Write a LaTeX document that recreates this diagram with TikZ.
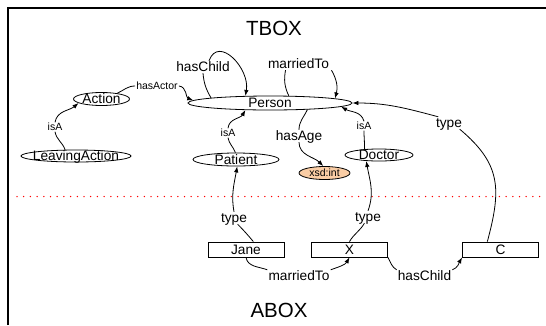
\documentclass[tikz,border=0pt]{standalone}
\usepackage{fontspec}
\setmainfont{Liberation Sans}
\usetikzlibrary{shapes.geometric,arrows.meta}
\definecolor{peach}{RGB}{250,205,165}
\newcommand{\ctxt}[2]{\makebox[0pt]{\smash{\raisebox{-#1}{#2}}}}
\newcommand{\ltxt}[2]{\smash{\raisebox{-#1}{#2}}}
\begin{document}
\begin{tikzpicture}[x=1pt,y=1pt,
  ell/.style={ellipse,draw,line width=0.8pt,inner sep=0pt,font=\fontsize{13.7}{15}\selectfont},
  box/.style={rectangle,draw,line width=0.8pt,inner sep=0pt,minimum width=76pt,minimum height=15pt,font=\fontsize{13.7}{15}\selectfont},
  lbl/.style={inner xsep=1pt,inner ysep=6pt,font=\fontsize{13.7}{15}\selectfont},
  slbl/.style={inner xsep=1pt,inner ysep=4.5pt,font=\fontsize{10.5}{12}\selectfont},
  ttl/.style={inner sep=0pt,font=\fontsize{20.5}{23}\selectfont},
  edge/.style={line width=0.8pt},
  arr/.style={edge,-{Latex[length=6pt,width=4.5pt]}}]
\useasboundingbox (0,0) rectangle (546,-325);
% frame
\draw[line width=2pt] (7.7,-325) -- (7.7,-7.7) -- (546,-7.7);
% separator
\draw[red,line width=1.5pt,line cap=round,dash pattern=on 0pt off 6.7pt] (17,-196.5) -- (546,-196.5);
% titles
\node[ttl] (tbox) at (274,-28) {\ctxt{7.3pt}{TBOX}};
\node[ttl] (abox) at (279,-310) {\ctxt{7.3pt}{ABOX}};
% TBOX nodes
\node[ell,minimum width=164pt,minimum height=14pt] (Person) at (270,-103) {\ctxt{4.9pt}{Person}};
\node[ell,minimum width=56pt,minimum height=13pt] (Action) at (101.5,-99) {\ctxt{4.9pt}{Action}};
\node[ell,minimum width=110pt,minimum height=12pt] (Leaving) at (76,-156) {\ctxt{4.9pt}{LeavingAction}};
\node[ell,minimum width=86pt,minimum height=13pt] (Patient) at (236,-159.5) {\ctxt{4.9pt}{Patient}};
\node[ell,minimum width=68pt,minimum height=12pt] (Doctor) at (379,-155) {\ctxt{4.9pt}{Doctor}};
\node[ell,minimum width=51pt,minimum height=13pt,fill=peach,font=\fontsize{10.5}{12}\selectfont] (xsd) at (324.5,-173) {\ctxt{3.75pt}{xsd:int}};
% ABOX nodes
\node[box] (Jane) at (246,-249.5) {\ctxt{4.9pt}{Jane}};
\node[box] (X) at (349.5,-249.5) {\ctxt{4.9pt}{X}};
\node[box] (C) at (500.5,-249.5) {\ctxt{4.9pt}{C}};
% labels
\node[lbl] (hcl) at (203,-67) {\ltxt{4.9pt}{hasChild}};
\node[lbl] (mtl) at (298.5,-64) {\ltxt{4.9pt}{marriedTo}};
\node[slbl] (hal) at (157,-86) {\ltxt{3.75pt}{hasActor}};
\node[slbl] (ial) at (55,-127) {\ltxt{3.75pt}{isA}};
\node[lbl] (hgl) at (299,-136) {\ltxt{4.9pt}{hasAge}};
\node[slbl] (ipl) at (228,-133) {\ltxt{3.75pt}{isA}};
\node[slbl] (idl) at (364,-126) {\ltxt{3.75pt}{isA}};
\node[lbl] (t1) at (234,-218) {\ltxt{4.9pt}{type}};
\node[lbl] (t2) at (368,-217) {\ltxt{4.9pt}{type}};
\node[lbl] (t3) at (449,-123) {\ltxt{4.9pt}{type}};
\node[lbl] (m2) at (299,-276) {\ltxt{4.9pt}{marriedTo}};
\node[lbl] (h2) at (424.5,-276) {\ltxt{4.9pt}{hasChild}};
% edges
\draw[edge] (Action.20) to[out=25,in=180] (hal.west);
\draw[arr] (hal.east) to[out=-5,in=160] (Person.178);
\draw[edge] (Leaving.150) to[out=110,in=-80] (ial.south);
\draw[arr] (ial.north) to[out=80,in=220] (Action.190);
\draw[edge] (Person.175) to[out=120,in=-85] (hcl.south);
\draw[arr] ([xshift=6pt]hcl.north) to[out=70,in=80,looseness=1.4] (Person.164);
\draw[edge] (Person.21) to[out=115,in=-100] ([xshift=-13pt]mtl.south);
\draw[arr] ([xshift=33pt]mtl.south) to[out=-60,in=75] (Person.4);
\draw[edge] (Person.-10) to[out=-115,in=90] (hgl.north);
\draw[arr] (hgl.south) to[out=-90,in=135] (xsd.100);
\draw[edge] (Patient.95) to[out=110,in=-80] (ipl.south);
\draw[arr] (ipl.north) to[out=85,in=-120] (Person.196);
\draw[edge] (Doctor.158) to[out=90,in=-90] (idl.south);
\draw[arr] (idl.north) to[out=105,in=-30] (Person.-3.5);
\draw[edge] (Jane.47) to[out=130,in=-45] (t1.-60);
\draw[arr] (t1.north) to[out=100,in=-100] (Patient.-80);
\draw[edge] (X.north) to[out=60,in=-120] (t2.-120);
\draw[arr] (t2.north) to[out=70,in=-80] (Doctor.-155);
\draw[edge] (C.149) to[out=75,in=-40,looseness=1.2] (t3.-30);
\draw[arr] (t3.150) to[out=165,in=0] (Person.east);
\draw[edge] (Jane.south) to[out=-80,in=160] (m2.north west);
\draw[arr] (m2.north east) to[out=20,in=-120] (X.south);
\draw[edge] (X.south east) to[out=-60,in=150] (h2.north west);
\draw[arr] (h2.north east) to[out=20,in=-120] (C.south west);
\end{tikzpicture}
\end{document}
